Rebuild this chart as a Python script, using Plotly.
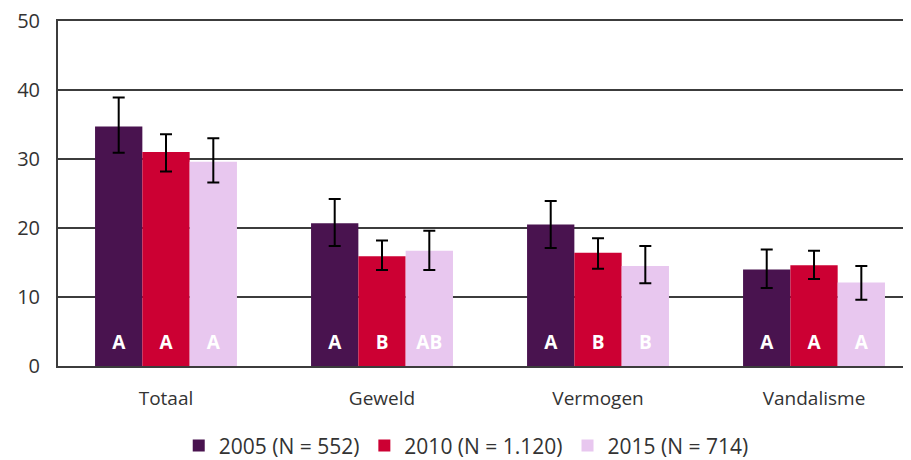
import plotly.graph_objects as go

categories = ["Totaal", "Geweld", "Vermogen", "Vandalisme"]
series_names = ["2005 (N = 552)", "2010 (N = 1.120)", "2015 (N = 714)"]

values_2005 = [34.7, 20.7, 20.5, 14.0]
upper_2005 = [38.9, 24.2, 23.9, 16.9]
lower_2005 = [30.9, 17.4, 17.1, 11.3]
letters_2005 = ["A", "A", "A", "A"]

values_2010 = [31.0, 15.9, 16.4, 14.6]
upper_2010 = [33.6, 18.2, 18.5, 16.7]
lower_2010 = [28.2, 13.9, 14.1, 12.6]
letters_2010 = ["A", "B", "B", "A"]

values_2015 = [29.6, 16.7, 14.5, 12.1]
upper_2015 = [33.0, 19.6, 17.4, 14.5]
lower_2015 = [26.6, 13.9, 12.0, 9.6]
letters_2015 = ["A", "AB", "B", "A"]

y_ticks = [0, 10, 20, 30, 40, 50]

colors = ["#49134F", "#CC0033", "#E8C7EF"]
FONT = "Open Sans"
GRID = "#3c3c3c"

series = [
    (series_names[0], values_2005, upper_2005, lower_2005, letters_2005, colors[0]),
    (series_names[1], values_2010, upper_2010, lower_2010, letters_2010, colors[1]),
    (series_names[2], values_2015, upper_2015, lower_2015, letters_2015, colors[2]),
]

fig = go.Figure()
for i, (name, vals, up, lo, letters, col) in enumerate(series):
    fig.add_trace(go.Bar(
        x=categories, y=vals, name=name, offsetgroup=str(i),
        marker=dict(color=col, line=dict(width=0)),
        error_y=dict(type="data", symmetric=False,
                     array=[u - v for u, v in zip(up, vals)],
                     arrayminus=[v - l for v, l in zip(vals, lo)],
                     color="black", thickness=2, width=6),
    ))
for i, (name, vals, up, lo, letters, col) in enumerate(series):
    fig.add_trace(go.Scatter(
        x=categories, y=[3.2] * len(categories), mode="text", text=letters,
        offsetgroup=str(i), showlegend=False, hoverinfo="skip",
        textfont=dict(family=FONT, size=19, color="white", weight="bold"),
        textposition="middle center",
    ))

fig.update_layout(
    width=911, height=460,
    margin=dict(l=50, r=0, t=13, b=102),
    paper_bgcolor="white", plot_bgcolor="white",
    barmode="group", bargap=0.343, bargroupgap=0,
    scattermode="group", scattergap=0.343,
    font=dict(family=FONT, size=20, color="#333333"),
    showlegend=True,
    legend=dict(orientation="h", xref="container", yref="container",
                x=0.503, xanchor="center", y=0.048, yanchor="middle",
                font=dict(family=FONT, size=21, color="#333333"),
                itemwidth=30, traceorder="normal"),
    xaxis=dict(range=[-0.5, 3.486], showgrid=False,
               showline=True, mirror=True, linecolor=GRID, linewidth=2,
               zeroline=False, ticks="", ticklabelstandoff=14,
               tickfont=dict(family=FONT, size=19, color="#333333")),
    yaxis=dict(range=[0, 50], tickvals=y_ticks, showgrid=True,
               gridcolor=GRID, gridwidth=2, zeroline=False,
               showline=True, linecolor=GRID, linewidth=2,
               ticks="", ticklabelstandoff=12, ticklabeloverflow="allow",
               tickfont=dict(family=FONT, size=20, color="#333333")),
)

fig.write_html("out.html")
